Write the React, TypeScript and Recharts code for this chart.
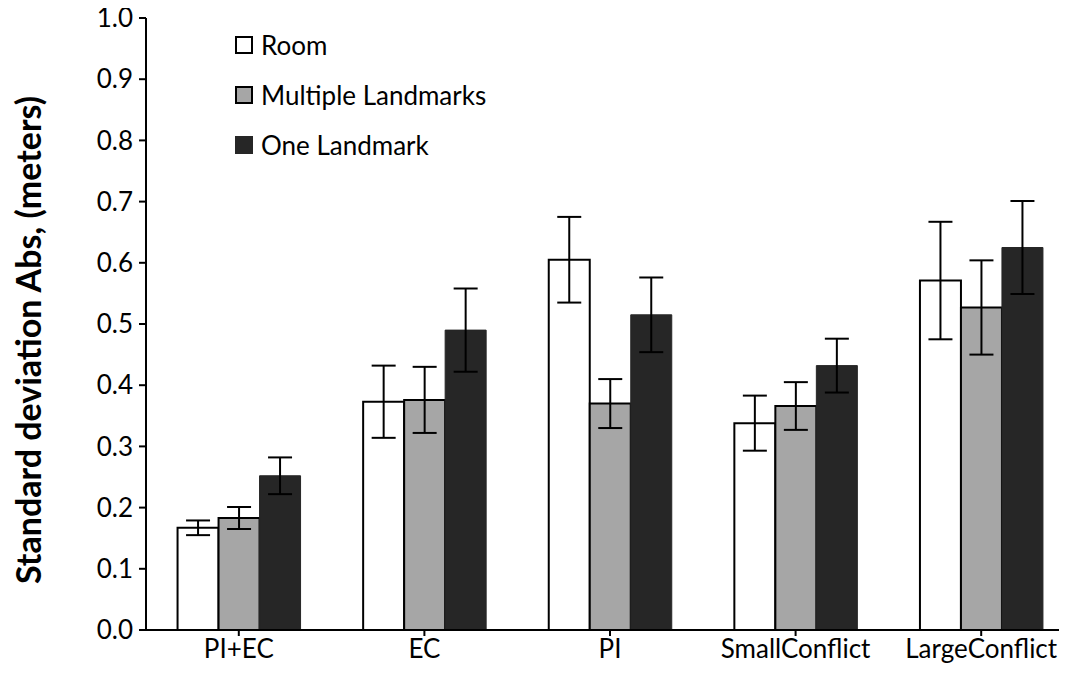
import {
  BarChart,
  Bar,
  XAxis,
  YAxis,
  ErrorBar,
  Legend,
  Label,
} from 'recharts'

const categories = ['PI+EC', 'EC', 'PI', 'SmallConflict', 'LargeConflict']
const room = [0.167, 0.373, 0.605, 0.338, 0.571]
const roomErr = [0.012, 0.059, 0.07, 0.045, 0.096]
const multiple = [0.183, 0.376, 0.37, 0.366, 0.527]
const multipleErr = [0.018, 0.054, 0.04, 0.039, 0.077]
const one = [0.252, 0.49, 0.515, 0.432, 0.625]
const oneErr = [0.03, 0.068, 0.061, 0.044, 0.076]
const yTicks = [0, 0.1, 0.2, 0.3, 0.4, 0.5, 0.6, 0.7, 0.8, 0.9, 1.0]

const data = categories.map((name, i) => ({
  name,
  room: room[i],
  roomErr: roomErr[i],
  multiple: multiple[i],
  multipleErr: multipleErr[i],
  one: one[i],
  oneErr: oneErr[i],
}))

const font = 'Lato, "Open Sans", sans-serif'

const legendItems = [
  { label: 'Room', fill: '#ffffff', stroke: '#000' },
  { label: 'Multiple Landmarks', fill: '#a6a6a6', stroke: '#000' },
  { label: 'One Landmark', fill: '#262626', stroke: '#262626' },
]

function ChartLegend() {
  return (
    <div style={{ fontFamily: font, fontSize: 26, color: '#000' }}>
      {legendItems.map((it) => (
        <div key={it.label} style={{ display: 'flex', alignItems: 'center', height: 50 }}>
          <span
            style={{
              display: 'inline-block',
              width: 14,
              height: 14,
              background: it.fill,
              border: `2px solid ${it.stroke}`,
              marginRight: 8,
            }}
          />
          <span>{it.label}</span>
        </div>
      ))}
    </div>
  )
}

export default function App() {
  return (
    <div style={{ margin: -8, width: 1067, height: 689, overflow: 'hidden', background: '#fff' }}>
      <BarChart
        width={1077}
        height={689}
        data={data}
        margin={{ top: 18, right: 3, bottom: 0, left: 0 }}
        barCategoryGap="17%"
        barGap={0}
      >
        <XAxis
          dataKey="name"
          height={59}
          tickSize={6}
          tickMargin={4}
          stroke="#000"
          strokeWidth={2}
          tick={{ fontSize: 26, fontFamily: font, fill: '#000' }}
        />
        <YAxis
          width={146}
          domain={[0, 1]}
          ticks={yTicks}
          interval={0}
          tickFormatter={(v: number) => v.toFixed(1)}
          tickSize={7}
          tickMargin={6}
          stroke="#000"
          strokeWidth={2}
          tick={{ fontSize: 26, fontFamily: font, fill: '#000' }}
        >
          <Label
            content={({ viewBox }: any) => (
              <text
                x={viewBox.x + 27}
                y={viewBox.y + 322}
                transform={`rotate(-90, ${viewBox.x + 27}, ${viewBox.y + 322})`}
                textAnchor="middle"
                dominantBaseline="central"
                style={{ fontSize: 34, fontWeight: 700, fontFamily: font, fill: '#000' }}
              >
                Standard deviation Abs, (meters)
              </text>
            )}
          />
        </YAxis>
        <Legend
          layout="vertical"
          align="center"
          verticalAlign="middle"
          content={() => <ChartLegend />}
          wrapperStyle={{ left: 235, top: 20, width: 'auto' }}
        />
        <Bar dataKey="room" name="Room" fill="#ffffff" stroke="#000" strokeWidth={2} isAnimationActive={false}>
          <ErrorBar dataKey="roomErr" width={12} stroke="#000" strokeWidth={2} />
        </Bar>
        <Bar dataKey="multiple" name="Multiple Landmarks" fill="#a6a6a6" stroke="#000" strokeWidth={2} isAnimationActive={false}>
          <ErrorBar dataKey="multipleErr" width={12} stroke="#000" strokeWidth={2} />
        </Bar>
        <Bar dataKey="one" name="One Landmark" fill="#262626" stroke="#262626" strokeWidth={1} isAnimationActive={false}>
          <ErrorBar dataKey="oneErr" width={12} stroke="#000" strokeWidth={2} />
        </Bar>
      </BarChart>
    </div>
  )
}
